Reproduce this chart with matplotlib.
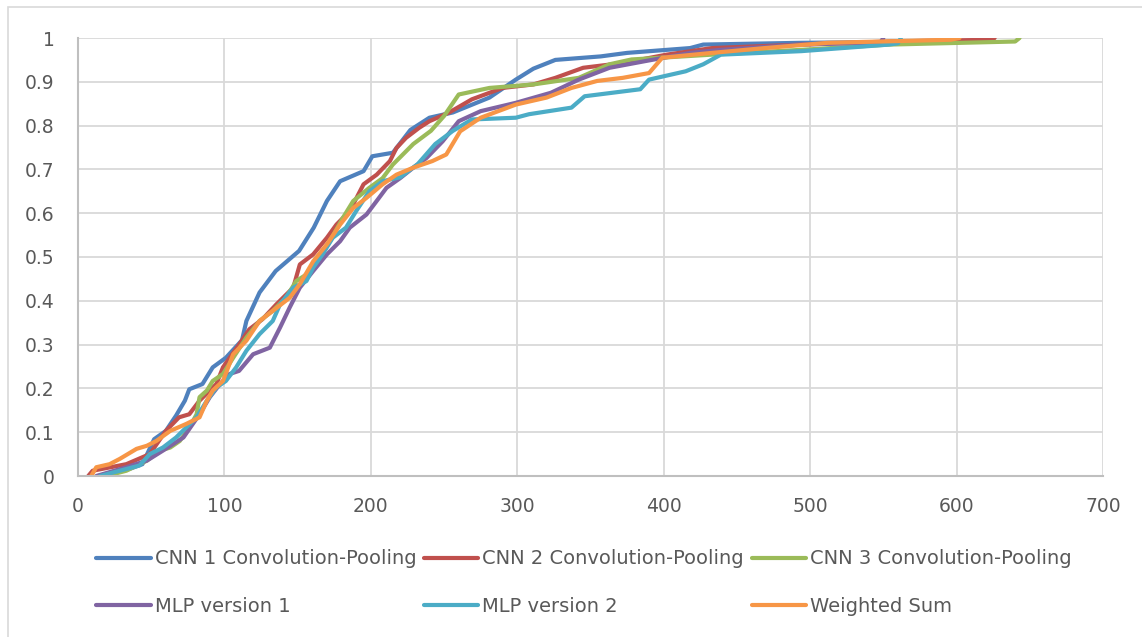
import matplotlib
matplotlib.use("Agg")
import matplotlib.pyplot as plt
from matplotlib.patches import Rectangle

cnn1_x = [14, 35, 44, 52, 60, 67, 73, 76, 85, 92, 101, 112, 115, 124, 135, 151, 161, 170, 179,
          195, 201, 215, 227, 240, 256, 281, 299, 311, 326, 357, 375, 418, 427, 494, 594, 595]
cnn1_y = [0, 0.016, 0.027, 0.084, 0.103, 0.138, 0.172, 0.198, 0.21, 0.248, 0.27, 0.31, 0.354,
          0.419, 0.468, 0.514, 0.567, 0.628, 0.673, 0.696, 0.73, 0.738, 0.79, 0.818, 0.83, 0.864,
          0.905, 0.93, 0.95, 0.958, 0.966, 0.977, 0.985, 0.989, 0.992, 1.0]

cnn2_x = [7, 10, 33, 49, 60, 69, 76, 83, 94.5, 99, 103.6, 110, 117, 126, 135.5, 147, 151.5, 160.6,
          170, 176.5, 185.6, 195, 204, 213, 217.5, 224, 233, 240, 253.5, 269, 290, 311, 326, 345,
          372, 402, 433, 494, 554, 624, 626]
cnn2_y = [0, 0.012, 0.027, 0.05, 0.103, 0.134, 0.141, 0.172, 0.21, 0.248, 0.27, 0.30, 0.335, 0.358,
          0.392, 0.43, 0.483, 0.506, 0.544, 0.574, 0.605, 0.666, 0.688, 0.719, 0.749, 0.772, 0.795,
          0.81, 0.83, 0.86, 0.886, 0.894, 0.909, 0.932, 0.943, 0.962, 0.977, 0.985, 0.992, 0.996, 1.0]

cnn3_x = [19, 33, 47, 56, 63, 69.5, 76, 81, 83, 88, 92, 99, 106, 115, 124, 133, 142, 149, 156, 163,
          172, 181, 188, 199, 208, 215, 229, 241, 250, 260, 281, 311, 342, 363, 378, 433, 494, 554,
          640, 643]
cnn3_y = [0, 0.012, 0.035, 0.058, 0.065, 0.08, 0.11, 0.141, 0.18, 0.195, 0.217, 0.233, 0.27, 0.316,
          0.354, 0.377, 0.407, 0.445, 0.46, 0.49, 0.536, 0.59, 0.628, 0.658, 0.68, 0.711, 0.758,
          0.788, 0.822, 0.871, 0.886, 0.894, 0.909, 0.94, 0.951, 0.962, 0.973, 0.985, 0.992, 1.0]

mlp1_x = [12.5, 33, 47, 58, 65, 72, 83, 90, 97, 103.6, 110, 119.6, 131, 138, 144.6, 151.5, 160.6,
          170, 179, 185.6, 197, 204, 210.7, 220, 229, 238, 249, 260, 275, 299, 323, 342, 363, 387,
          418, 439, 494, 548, 550]
mlp1_y = [0, 0.02, 0.035, 0.058, 0.073, 0.088, 0.141, 0.18, 0.21, 0.233, 0.24, 0.278, 0.293, 0.339,
          0.385, 0.43, 0.468, 0.506, 0.536, 0.567, 0.597, 0.628, 0.658, 0.68, 0.704, 0.726, 0.764,
          0.81, 0.833, 0.852, 0.875, 0.905, 0.932, 0.947, 0.966, 0.973, 0.985, 0.99, 1.0]

mlp2_x = [15, 24, 42, 49, 58, 67, 74, 81, 88, 94.5, 101, 108, 115, 124, 133, 138, 147, 156, 160.6,
          167, 174, 183, 190, 199, 208, 220, 232, 244, 256, 269, 299, 308, 337, 346, 384, 390, 415,
          427, 439, 494, 554, 560, 562]
mlp2_y = [0, 0.008, 0.024, 0.05, 0.065, 0.088, 0.111, 0.134, 0.172, 0.202, 0.217, 0.248, 0.286,
          0.324, 0.354, 0.392, 0.43, 0.445, 0.476, 0.506, 0.544, 0.567, 0.605, 0.65, 0.673, 0.682,
          0.712, 0.758, 0.788, 0.814, 0.818, 0.826, 0.841, 0.867, 0.883, 0.905, 0.924, 0.94, 0.962,
          0.97, 0.985, 0.988, 1.0]

wsum_x = [9, 12.5, 21.6, 28.5, 40, 47, 53.5, 63, 74, 83, 88, 92, 99, 106, 115, 124, 133, 144.6,
          151.5, 160.6, 170, 179, 188, 197, 208, 217.5, 229, 242, 251.5, 261, 275, 299, 320, 337,
          354.6, 372, 390, 399, 433, 469, 512, 596, 602]
wsum_y = [0, 0.02, 0.027, 0.039, 0.062, 0.069, 0.08, 0.103, 0.119, 0.134, 0.172, 0.195, 0.217,
          0.278, 0.309, 0.354, 0.377, 0.407, 0.438, 0.49, 0.529, 0.574, 0.612, 0.635, 0.666, 0.688,
          0.704, 0.719, 0.734, 0.787, 0.818, 0.848, 0.864, 0.886, 0.902, 0.909, 0.92, 0.955, 0.966,
          0.977, 0.989, 0.996, 1.0]

SERIES = [
    ('CNN 1 Convolution-Pooling', cnn1_x, cnn1_y, '#4F81BD'),
    ('CNN 2 Convolution-Pooling', cnn2_x, cnn2_y, '#C0504D'),
    ('CNN 3 Convolution-Pooling', cnn3_x, cnn3_y, '#9BBB59'),
    ('MLP version 1', mlp1_x, mlp1_y, '#8064A2'),
    ('MLP version 2', mlp2_x, mlp2_y, '#4BACC6'),
    ('Weighted Sum', wsum_x, wsum_y, '#F79646'),
]

X_TICKS = [0, 100, 200, 300, 400, 500, 600, 700]
Y_TICKS = [0, 0.1, 0.2, 0.3, 0.4, 0.5, 0.6, 0.7, 0.8, 0.9, 1]
Y_TICK_LABELS = ['0', '0.1', '0.2', '0.3', '0.4', '0.5', '0.6', '0.7', '0.8', '0.9', '1']

TEXT_COLOR = '#595959'
GRID_COLOR = '#D9D9D9'

plt.rcParams['font.family'] = ['DejaVu Sans']

W, H = 1142, 637
fig = plt.figure(figsize=(W / 100, H / 100), dpi=100)
ax = fig.add_axes([78 / W, 1 - 476 / H, (1103 - 78) / W, (476 - 38) / H])

# chart frame like the Excel chart area
fig.patches.append(Rectangle((8 / W, -0.05), 1.2, 1 - 7 / H + 0.05, transform=fig.transFigure,
                             fill=False, edgecolor='#D9D9D9', linewidth=1.2))

lines = []
for label, xs, ys, color in SERIES:
    ln, = ax.plot(xs, ys, color=color, linewidth=3.0, label=label, solid_joinstyle='round',
                  solid_capstyle='round')
    lines.append(ln)

ax.set_xlim(0, 700)
ax.set_ylim(0, 1)
ax.set_xticks(X_TICKS)
ax.set_yticks(Y_TICKS)
ax.set_yticklabels(Y_TICK_LABELS)
ax.grid(True, color=GRID_COLOR, linewidth=1.3)
ax.set_axisbelow(True)
for side in ['top', 'right']:
    ax.spines[side].set_visible(False)
for side in ['left', 'bottom']:
    ax.spines[side].set_color('#BFBFBF')
    ax.spines[side].set_linewidth(1.5)
ax.tick_params(axis='both', length=0, labelsize=13.5, colors=TEXT_COLOR)
ax.tick_params(axis='y', pad=17)
ax.tick_params(axis='x', pad=15)

# legend fills column-wise, so reorder to get the row-wise Excel layout
order = [0, 3, 1, 4, 2, 5]
fig.legend([lines[i] for i in order], [SERIES[i][0] for i in order],
           loc='upper center', bbox_to_anchor=(584 / W, 1 - 532 / H), ncol=3, frameon=False,
           fontsize=14, handlelength=2.8, handletextpad=0.2, columnspacing=0.4,
           labelspacing=1.45, labelcolor=TEXT_COLOR)

fig.savefig('out.png', dpi=100)
